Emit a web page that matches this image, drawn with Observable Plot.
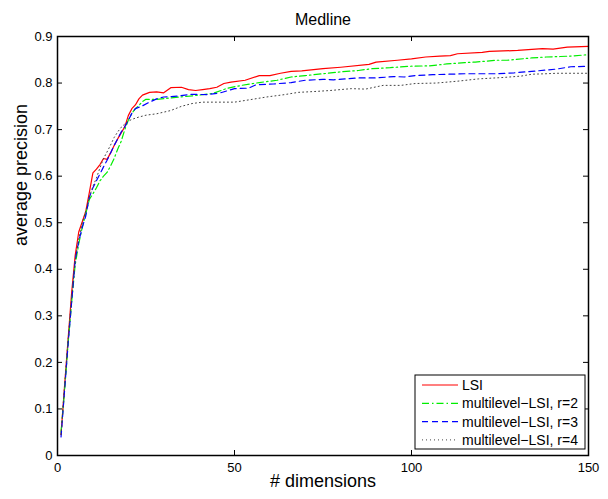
<!DOCTYPE html>
<html>
<head>
<meta charset="utf-8">
<script src="https://cdn.jsdelivr.net/npm/d3@7"></script>
<script src="https://cdn.jsdelivr.net/npm/@observablehq/plot@0.6"></script>
<style>
  body { margin: 0; background: #fff; }
  #chart svg { display: block; }
</style>
</head>
<body>
<div id="chart"></div>
<script>
// Average precision vs. number of retained dimensions on Medline.
const title = "Medline";
const xLabel = "# dimensions";
const yLabel = "average precision";
const xTicks = [0, 50, 100, 150];
const yTicks = [0, 0.1, 0.2, 0.3, 0.4, 0.5, 0.6, 0.7, 0.8, 0.9];
const seriesNames = ["LSI", "multilevel−LSI, r=2", "multilevel−LSI, r=3", "multilevel−LSI, r=4"];

const lsiDims = [1, 2, 3, 4, 5, 6, 7, 8, 9, 10, 11, 12, 13, 14, 15, 16, 17, 18, 19, 20, 21, 22, 23, 24, 26, 28, 30, 32, 35, 37, 39, 41, 43, 45, 47, 49, 53, 57, 60, 63, 66, 69, 75, 80, 88, 90, 96, 100, 104, 108, 111, 113, 120, 122, 130, 137, 140, 144, 150];
const lsiPrec = [0.045, 0.15, 0.25, 0.35, 0.43, 0.48, 0.502, 0.525, 0.565, 0.607, 0.615, 0.625, 0.638, 0.636, 0.65, 0.666, 0.68, 0.693, 0.706, 0.73, 0.745, 0.753, 0.766, 0.774, 0.78, 0.781, 0.779, 0.79, 0.791, 0.786, 0.784, 0.786, 0.788, 0.791, 0.799, 0.802, 0.806, 0.816, 0.816, 0.821, 0.825, 0.826, 0.831, 0.834, 0.840, 0.845, 0.849, 0.852, 0.856, 0.858, 0.859, 0.863, 0.866, 0.868, 0.870, 0.874, 0.873, 0.877, 0.879];

const r2Dims = [1, 2, 3, 4, 5, 6, 7, 8, 9, 10, 11, 12, 13, 14, 15, 16, 17, 18, 19, 20, 21, 22, 23, 24, 25, 28, 32, 36, 40, 44, 48, 52, 57, 62, 66, 70, 75, 80, 85, 89, 94, 99, 105, 110, 115, 118, 124, 127, 134, 138, 142, 145, 150];
const r2Prec = [0.05, 0.14, 0.24, 0.33, 0.41, 0.455, 0.49, 0.52, 0.55, 0.562, 0.575, 0.59, 0.60, 0.608, 0.622, 0.638, 0.658, 0.675, 0.70, 0.72, 0.735, 0.745, 0.752, 0.76, 0.765, 0.765, 0.768, 0.771, 0.774, 0.778, 0.789, 0.795, 0.801, 0.806, 0.813, 0.816, 0.82, 0.824, 0.827, 0.831, 0.833, 0.836, 0.837, 0.841, 0.844, 0.845, 0.849, 0.849, 0.854, 0.856, 0.857, 0.858, 0.861];

const r3Dims = [1, 2, 3, 4, 5, 6, 7, 8, 9, 10, 11, 12, 13, 14, 15, 16, 17, 18, 19, 20, 21, 22, 24, 26, 28, 30, 34, 38, 42, 46, 50, 54, 56, 61, 66, 70, 75, 78, 85, 90, 95, 98, 101, 106, 115, 124, 129, 134, 138, 141, 145, 150];
const r3Prec = [0.04, 0.14, 0.24, 0.33, 0.42, 0.46, 0.49, 0.515, 0.555, 0.575, 0.59, 0.605, 0.62, 0.634, 0.65, 0.666, 0.68, 0.695, 0.706, 0.72, 0.735, 0.745, 0.751, 0.759, 0.766, 0.77, 0.772, 0.776, 0.775, 0.779, 0.788, 0.789, 0.796, 0.798, 0.801, 0.806, 0.808, 0.807, 0.811, 0.811, 0.814, 0.813, 0.816, 0.818, 0.82, 0.82, 0.822, 0.825, 0.828, 0.830, 0.835, 0.836];

const r4Dims = [1, 2, 3, 4, 5, 6, 7, 8, 9, 10, 11, 12, 13, 14, 15, 16, 17, 18, 19, 20, 21, 23, 25, 28, 32, 35, 38, 41, 45, 50, 55, 59, 64, 68, 73, 77, 83, 87, 92, 97, 101, 107, 113, 119, 126, 131, 134, 138, 141, 150];
const r4Prec = [0.045, 0.15, 0.25, 0.34, 0.42, 0.465, 0.50, 0.525, 0.555, 0.578, 0.596, 0.618, 0.638, 0.652, 0.667, 0.683, 0.695, 0.705, 0.712, 0.718, 0.722, 0.727, 0.731, 0.734, 0.741, 0.75, 0.756, 0.759, 0.759, 0.759, 0.765, 0.77, 0.775, 0.780, 0.782, 0.784, 0.788, 0.787, 0.795, 0.795, 0.799, 0.80, 0.804, 0.809, 0.812, 0.815, 0.819, 0.82, 0.821, 0.821];

const seriesDims = [lsiDims, r2Dims, r3Dims, r4Dims];
const seriesPrec = [lsiPrec, r2Prec, r3Prec, r4Prec];

// Line appearance per series: solid red, green dash-dot, blue dashed, black dotted.
const lineStyles = [
  {stroke: "#ff0000", dash: null, width: 1.2},
  {stroke: "#00ee00", dash: "7,3,1.5,3", width: 1.2},
  {stroke: "#0000ff", dash: "6,4", width: 1.2},
  {stroke: "#444444", dash: "1,3", width: 1}
];

const W = 608, H = 499;
const margin = {top: 36, right: 20, bottom: 44, left: 57};
const frameW = W - margin.left - margin.right;
const frameH = H - margin.top - margin.bottom;
const tickLen = 5;
const font = "'Liberation Sans', Arial, Helvetica, sans-serif";

const rows = seriesNames.map((name, i) =>
  seriesDims[i].map((d, j) => ({series: name, dims: d, prec: seriesPrec[i][j]}))
);

// Boxed legend in the lower-right corner of the axes.
function legend(index, scales, values, dims) {
  const right = dims.width - dims.marginRight - 3;
  const bottom = dims.height - dims.marginBottom - 6;
  const boxW = 170, boxH = 74, rowGap = 18.3, firstRow = 10;
  const x0 = right - boxW, y0 = bottom - boxH;
  const g = d3.create("svg:g")
    .attr("font-family", font).attr("font-size", 14).attr("text-anchor", "start");
  g.append("rect")
    .attr("x", x0).attr("y", y0).attr("width", boxW).attr("height", boxH)
    .attr("fill", "white").attr("stroke", "black").attr("stroke-width", 1);
  seriesNames.forEach((name, i) => {
    const y = y0 + firstRow + i * rowGap;
    const st = lineStyles[i];
    const line = g.append("line")
      .attr("x1", x0 + 7).attr("x2", x0 + 43).attr("y1", y).attr("y2", y)
      .attr("stroke", st.stroke).attr("stroke-width", st.width);
    if (st.dash) line.attr("stroke-dasharray", st.dash);
    g.append("text")
      .attr("x", x0 + 47).attr("y", y).attr("dy", "0.35em")
      .attr("text-anchor", "start")
      .attr("fill", "black").text(name);
  });
  return g.node();
}

const chart = Plot.plot({
  width: W,
  height: H,
  marginTop: margin.top,
  marginRight: margin.right,
  marginBottom: margin.bottom,
  marginLeft: margin.left,
  style: {fontFamily: font, background: "white", color: "black"},
  x: {domain: [0, 150]},
  y: {domain: [0, 0.9]},
  marks: [
    Plot.axisX({ticks: xTicks, tickSize: 0, tickPadding: 7, fontSize: 13, label: null}),
    Plot.axisY({ticks: yTicks, tickSize: 0, tickPadding: 5, fontSize: 13, label: null,
      tickFormat: d => d === 0 ? "0" : d.toFixed(1)}),
    // inward ticks on all four sides
    Plot.tickX(xTicks, {x: d => d, insetTop: frameH - tickLen, stroke: "black"}),
    Plot.tickX(xTicks, {x: d => d, insetBottom: frameH - tickLen, stroke: "black"}),
    Plot.tickY(yTicks, {y: d => d, insetRight: frameW - tickLen, stroke: "black"}),
    Plot.tickY(yTicks, {y: d => d, insetLeft: frameW - tickLen, stroke: "black"}),
    ...rows.map((r, i) => Plot.line(r, {
      x: "dims", y: "prec",
      stroke: lineStyles[i].stroke,
      strokeWidth: lineStyles[i].width,
      strokeDasharray: lineStyles[i].dash
    })),
    Plot.frame({stroke: "black", strokeWidth: 1.5}),
    legend,
    Plot.text([title], {text: d => d, frameAnchor: "top", dy: -23, fontSize: 16, fill: "black"}),
    Plot.text([xLabel], {text: d => d, frameAnchor: "bottom", dy: 31, fontSize: 18, fill: "black"}),
    Plot.text([yLabel], {text: d => d, frameAnchor: "left", dx: -36, rotate: -90, fontSize: 18, fill: "black"})
  ]
});

document.getElementById("chart").appendChild(chart);
</script>
</body>
</html>
